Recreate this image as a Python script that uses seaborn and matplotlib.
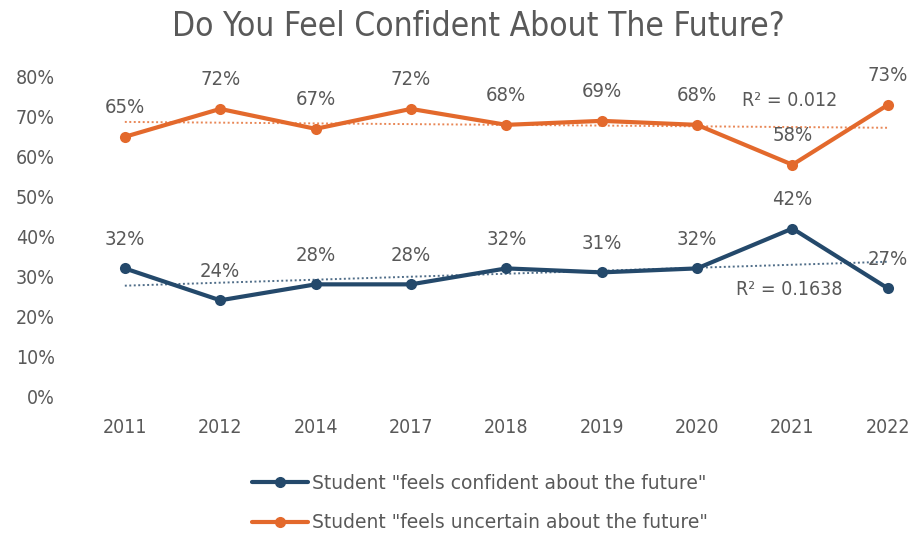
import numpy as np
import pandas as pd
import seaborn as sns
import matplotlib
matplotlib.use("Agg")
import matplotlib.pyplot as plt
from matplotlib.lines import Line2D

years = ["2011", "2012", "2014", "2017", "2018", "2019", "2020", "2021", "2022"]
confident = [32, 24, 28, 28, 32, 31, 32, 42, 27]
uncertain = [65, 72, 67, 72, 68, 69, 68, 58, 73]
series_names = ['Student "feels confident about the future"',
                'Student "feels uncertain about the future"']
y_ticks = [0, 10, 20, 30, 40, 50, 60, 70, 80]

BLUE = "#24496b"
ORANGE = "#e3692c"
GREY = "#595959"

sns.set_theme(style="white")
plt.rcParams["font.family"] = ["DejaVu Sans"]
plt.rcParams["font.stretch"] = "condensed"

idx = np.arange(len(years))
df = pd.DataFrame({
    "x": np.concatenate([idx, idx]),
    "value": np.array(confident + uncertain) / 100.0,
    "series": [series_names[0]] * len(years) + [series_names[1]] * len(years),
})

fig = plt.figure(figsize=(9.12, 5.41), dpi=100)
ax = fig.add_axes([80 / 912, 1 - 396 / 541, (905 - 80) / 912, (396 - 77) / 541])

sns.lineplot(data=df, x="x", y="value", hue="series",
             palette=[BLUE, ORANGE], marker="o", markersize=8,
             markeredgewidth=0, linewidth=3, ax=ax, legend=False)

# linear trendlines with R² labels
r2_pos = {0: (6.97, 0.266), 1: (6.97, 0.742)}
for k, (vals, col) in enumerate([(confident, BLUE), (uncertain, ORANGE)]):
    y = np.array(vals) / 100.0
    slope, icpt = np.polyfit(idx, y, 1)
    fit = slope * idx + icpt
    r2 = 1 - np.sum((y - fit) ** 2) / np.sum((y - y.mean()) ** 2)
    ax.plot([idx[0], idx[-1]], [fit[0], fit[-1]], linestyle=(0, (1.0, 1.3)),
            color=col, linewidth=1.4, alpha=0.8, zorder=1)
    txt = f"{round(r2, 4):.4f}".rstrip("0")
    xr, yr = r2_pos[k]
    ax.text(xr, yr, f"R² = {txt}", ha="center", va="center",
            fontsize=14, color=GREY)

# value labels above every point
for vals in (confident, uncertain):
    for i, v in enumerate(vals):
        ax.annotate(f"{v}%", (i, v / 100.0), xytext=(0, 21),
                    textcoords="offset points", ha="center", va="center",
                    fontsize=14.5, color=GREY, annotation_clip=False)

ax.set_xlim(-0.47, 8.18)
ax.set_ylim(0, 0.8)
ax.set_xticks(idx)
ax.set_xticklabels(years)
ax.set_yticks([t / 100 for t in y_ticks])
ax.set_yticklabels([f"{t}%" for t in y_ticks])
ax.tick_params(axis="both", colors=GREY, labelsize=14, length=0)
ax.tick_params(axis="x", pad=16)
ax.tick_params(axis="y", pad=18)
ax.set_xlabel("")
ax.set_ylabel("")
sns.despine(ax=ax, left=True, bottom=True)

fig.text(478 / 912, 1 - 27 / 541, "Do You Feel Confident About The Future?",
         ha="center", va="center", fontsize=24, color=GREY)

handles = [Line2D([], [], color=BLUE, linewidth=3, marker="o", markersize=7),
           Line2D([], [], color=ORANGE, linewidth=3, marker="o", markersize=7)]
fig.legend(handles, series_names, loc="center", bbox_to_anchor=(480 / 912, 1 - 503 / 541),
           ncol=1, frameon=False, prop=dict(family="DejaVu Sans", stretch="normal", size=13.5),
           labelcolor=GREY, handlelength=3.0, handletextpad=0.2, labelspacing=1.1)

fig.savefig("out.png", dpi=100, facecolor="white")
